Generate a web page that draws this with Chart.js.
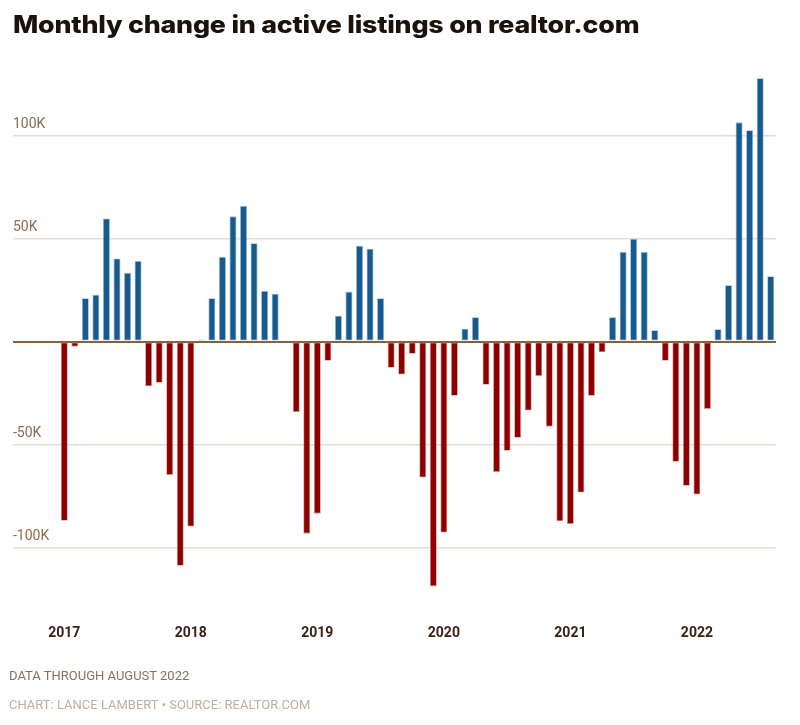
<!DOCTYPE html>
<html>
<head>
<meta charset="utf-8">
<script src="https://cdn.jsdelivr.net/npm/chart.js@4.4.0/dist/chart.umd.min.js"></script>
<style>
  body { margin: 0; background: #fff; width: 800px; height: 725px; position: relative; overflow: hidden; font-family: Roboto, sans-serif; }
  #title { position: absolute; left: 13px; top: 10px; font-family: Inter, Roboto, sans-serif; font-size: 24px; line-height: 30px; font-weight: 800; color: #1b120a; white-space: nowrap; letter-spacing: -0.2px; transform: scaleX(1.118); transform-origin: left top; }
  #chart { position: absolute; left: 0; top: 0; }
  .note { position: absolute; left: 9px; font-size: 13px; line-height: 16px; white-space: nowrap; }
</style>
</head>
<body>
<canvas id="chart" width="800" height="725"></canvas>
<div id="title">Monthly change in active listings on realtor.com</div>
<div class="note" style="top:668px;color:#8c6f58">DATA THROUGH AUGUST 2022</div>
<div class="note" style="top:697px;color:#c3ad99">CHART: LANCE LAMBERT • SOURCE: REALTOR.COM</div>
<script>
// Valeurs en milliers (K), janvier 2017 -> août 2022
const years = ["2017", "2018", "2019", "2020", "2021", "2022"];
const monthNames = ["Jan", "Feb", "Mar", "Apr", "May", "Jun", "Jul", "Aug", "Sep", "Oct", "Nov", "Dec"];

const change2017 = [-87, -2.5, 21, 22.7, 59.7, 40.3, 33.3, 39, -21.7, -20, -64.7, -108.8];
const change2018 = [-89.7, 1, 21, 41, 60.7, 65.7, 47.7, 24.5, 23.2, 0.4, -34.2, -93.2];
const change2019 = [-83.5, -9.3, 12.5, 24.2, 46.5, 45, 21, -12.7, -16, -6, -66, -118.8];
const change2020 = [-92.7, -26.3, 6.2, 11.8, -21, -63.3, -53, -46.7, -33.5, -16.8, -41.3, -87.2];
const change2021 = [-88.5, -73.3, -26.3, -5.2, 11.8, 43.5, 49.8, 43.5, 5.5, -9.3, -58.3, -70];
const change2022 = [-74.2, -32.7, 6, 27.3, 106.3, 102.5, 127.7, 31.7];

const yTicks = [-100, -50, 0, 50, 100];

const values = [].concat(change2017, change2018, change2019, change2020, change2021, change2022);
const labels = values.map((v, i) => monthNames[i % 12] + " " + years[Math.floor(i / 12)]);

const BLUE = "#175a8d";
const RED = "#8e0000";

const ctx = document.getElementById("chart").getContext("2d");
new Chart(ctx, {
  type: "bar",
  data: {
    labels: labels,
    datasets: [
      {
        data: values,
        backgroundColor: (c) => (c.raw >= 0 ? BLUE : RED),
        borderColor: (c) => (c.raw >= 0 ? "rgba(120,160,200,0.8)" : "rgba(200,110,100,0.7)"),
        borderWidth: 0.8,
        borderSkipped: false,
        categoryPercentage: 1,
        barPercentage: 0.66,
      },
    ],
  },
  options: {
    responsive: false,
    animation: false,
    layout: { padding: { left: 13, right: 24, top: 73.5, bottom: 57 } },
    plugins: { legend: { display: false }, tooltip: { enabled: false } },
    scales: {
      x: {
        grid: { display: false, drawTicks: false },
        border: { display: false },
        ticks: {
          autoSkip: false,
          maxRotation: 0,
          padding: 26,
          color: "#3a2212",
          font: { family: "Roboto", weight: "bold", size: 14 },
          callback: (v, i) => (i % 12 === 0 ? years[i / 12] : ""),
        },
      },
      y: {
        min: -125,
        max: 130,
        afterFit: (s) => { s.width = 46; },
        afterBuildTicks: (s) => { s.ticks = yTicks.map((v) => ({ value: v })); },
        border: { display: false },
        grid: {
          color: (c) => (c.tick.value === 0 ? "#85613f" : "#e6ddd2"),
          lineWidth: (c) => (c.tick.value === 0 ? 2 : 1.6),
          tickColor: (c) => (c.tick.value === 0 ? "#85613f" : "#e6ddd2"),
          tickWidth: (c) => (c.tick.value === 0 ? 2 : 1.6),
          tickLength: 46,
        },
        ticks: {
          crossAlign: "far",
          padding: 0,
          labelOffset: -11,
          color: "#8b6b50",
          font: { family: "Roboto", size: 14 },
          callback: (v) => (v === 0 ? "" : v + "K"),
        },
      },
    },
  },
});
</script>
</body>
</html>
